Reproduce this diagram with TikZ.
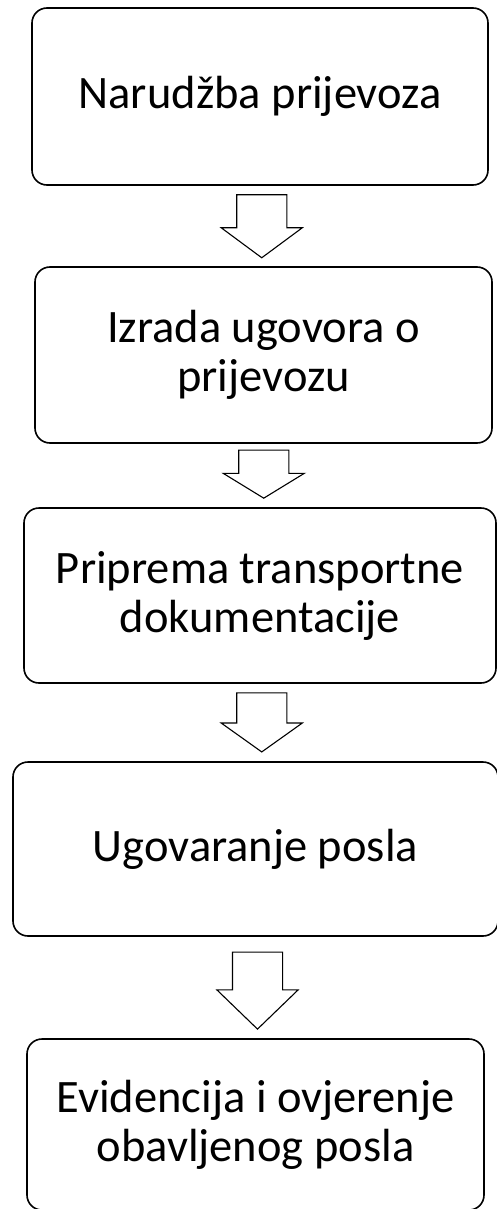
\documentclass[tikz,border=0pt]{standalone}
\usepackage{fontspec}
\setmainfont{Carlito}
\usetikzlibrary{calc,shapes.arrows}

\begin{document}
\begin{tikzpicture}[
        x=1pt, y=-1pt,
        font=\fontsize{46.5}{49}\selectfont,
        stepbox/.style={draw, line width=1.6pt, rounded corners=15pt, align=center, inner sep=0pt, fill=white},
        flow/.style={single arrow, draw, line width=1.1pt, shape border rotate=270, single arrow head extend=15.5pt, inner xsep=24.5pt, inner ysep=0pt, fill=white},
    ]
    \useasboundingbox[fill=white] (0,0) rectangle (496,1209);

    % Steps
    \node[stepbox, minimum width=456pt, minimum height=177pt] (b1) at (260,96.5) {Narudžba prijevoza};
    \node[stepbox, minimum width=457pt, minimum height=176pt] (b2) at (263.5,355) {Izrada ugovora o\\prijevozu};
    \node[stepbox, minimum width=472pt, minimum height=175pt] (b3) at (260,595.5) {Priprema transportne\\dokumentacije};
    \node[stepbox, minimum width=485pt, minimum height=174pt] (b4) at (255.5,849) {Ugovaranje posla};
    \node[stepbox, minimum width=457pt, minimum height=171pt] (b5) at (255.5,1124.5) {Evidencija i ovjerenje\\obavljenog posla};

    % Arrows between steps
    \foreach \u/\l/\dx/\len/\tip [count=\i] in {b1/b2/0/63/107, b2/b3/2/48/117, b3/b4/4/59/109, b4/b5/2/77/92}
        \node[flow, minimum height=\len pt, single arrow tip angle=\tip, xshift=\dx pt, yshift=9pt] (a\i) at ($(\u.south)!.5!(\l.north)$) {};

\end{tikzpicture}
\end{document}
